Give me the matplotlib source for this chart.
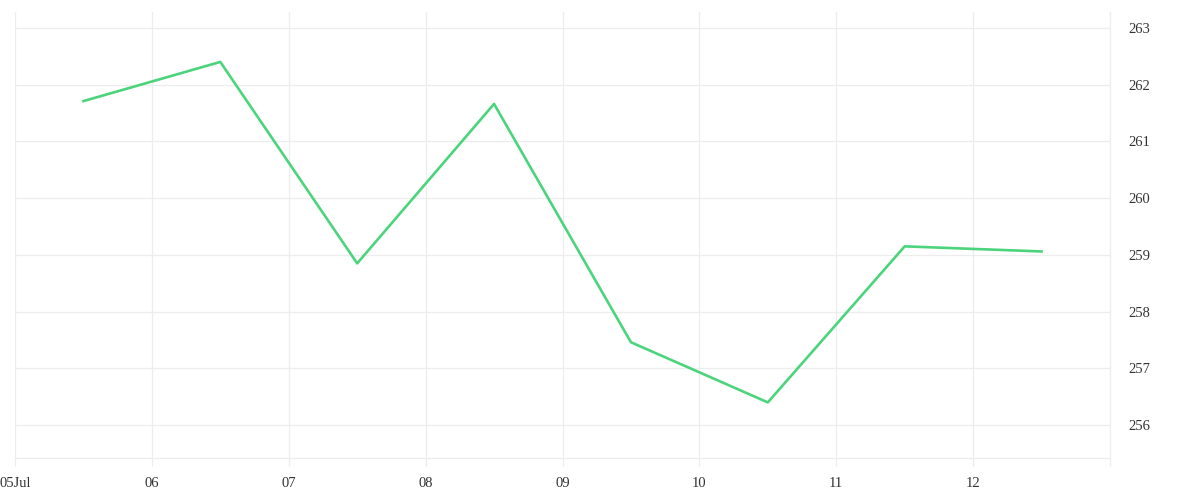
import matplotlib
matplotlib.use("Agg")
import matplotlib.pyplot as plt
import pandas as pd

# data
times = ['2024-07-05 12:00', '2024-07-06 12:00', '2024-07-07 12:00', '2024-07-08 12:00',
         '2024-07-09 12:00', '2024-07-10 12:00', '2024-07-11 12:00', '2024-07-12 12:00']
values = [261.71, 262.40, 258.85, 261.66, 257.46, 256.40, 259.15, 259.06]
tick_days = ['2024-07-05', '2024-07-06', '2024-07-07', '2024-07-08', '2024-07-09',
             '2024-07-10', '2024-07-11', '2024-07-12', '2024-07-13']
tick_labels = ['05Jul', '06', '07', '08', '09', '10', '11', '12', '']
y_ticks = [256, 257, 258, 259, 260, 261, 262, 263]

plt.rcParams['font.family'] = ['Liberation Serif', 'DejaVu Serif']
grid_c = '#ededed'
text_c = '#333333'

x = pd.to_datetime(times)
xt = pd.to_datetime(tick_days)

fig = plt.figure(figsize=(12, 5), dpi=100)
ax = fig.add_axes([15 / 1200, 42 / 500, 1095 / 1200, 446 / 500])

ax.plot(x, values, color='#4cd47c', linewidth=1.9)

ax.set_xlim(xt[0], xt[-1])
ax.set_ylim(255.42, 263.28)

ax.set_xticks(xt)
ax.set_xticklabels(tick_labels)
ax.set_yticks(y_ticks)
ax.yaxis.tick_right()

ax.grid(True, color=grid_c, linewidth=0.9)
ax.set_axisbelow(True)
for s in ['top', 'left']:
    ax.spines[s].set_visible(False)
for s in ['bottom', 'right']:
    ax.spines[s].set_color(grid_c)
    ax.spines[s].set_linewidth(0.9)

ax.tick_params(axis='x', length=6, width=0.9, color=grid_c, pad=8,
               labelsize=10.5, labelcolor=text_c)
ax.tick_params(axis='y', length=0, pad=13, labelsize=10.5, labelcolor=text_c)
for lab in ax.get_yticklabels():
    lab.set_horizontalalignment('left')

fig.savefig('out.png', dpi=100)
